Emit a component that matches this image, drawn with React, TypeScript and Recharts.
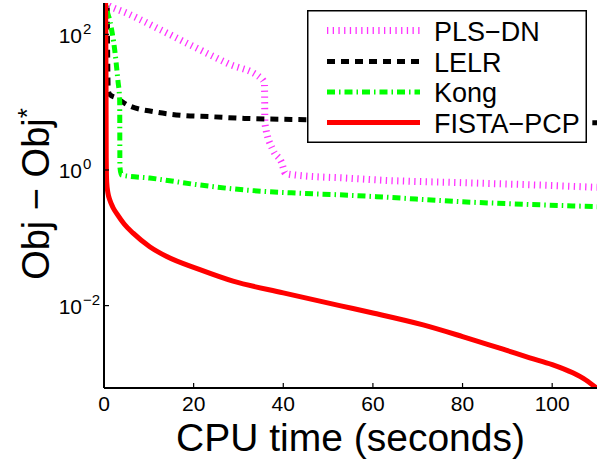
/**
 * Convergence plot: objective gap (log scale) against CPU time for four
 * RPCA solvers. Drawn in the MATLAB look: boxed axes, inward ticks,
 * exponent tick labels and a framed legend in the upper right.
 */

import { LineChart, Line, XAxis, YAxis } from 'recharts';

const FONT = '"Liberation Sans", Arial, Helvetica, sans-serif';

/** Tick values */
const X_TICKS = [0, 20, 40, 60, 80, 100];
const Y_TICKS = [1e-2, 1, 1e2];
const Y_EXPONENTS = ['−2', '0', '2'];

/** PLS-DN */
const plsTime = [0, 0.9, 5.4, 12.8, 20.2, 27.7, 35.1, 35.8, 35.9, 37.7, 39.6, 40.5, 42.9, 54.8, 61.5, 80, 100, 110];
const plsGap = [290, 268, 201, 115, 65, 37, 22.3, 19, 4.9, 1.97, 1.3, 0.89, 0.84, 0.755, 0.71, 0.65, 0.59, 0.555];

/** LELR */
const lelrTime = [0.7, 0.95, 1.3, 2.8, 5.4, 11.3, 17.3, 24, 31.4, 41.8, 60, 80, 100, 110];
const lelrGap = [400, 15, 13, 11.5, 9.0, 7.2, 6.4, 6.1, 5.76, 5.57, 5.4, 5.3, 5.1, 4.97];

/** Kong */
const kongTime = [0.4, 0.6, 1.3, 2.4, 3.1, 3.5, 3.55, 3.9, 10.2, 21.4, 31.4, 41.8, 52.6, 60.8, 80, 95, 110];
const kongGap = [400, 250, 160, 58, 21, 10.7, 1.1, 0.84, 0.76, 0.6, 0.507, 0.46, 0.43, 0.404, 0.34, 0.31, 0.288];

/** FISTA-PCP */
const fistaTime = [0.35, 0.45, 0.5, 0.6, 0.9, 1.3, 2, 3, 4.5, 6.5, 10.2, 14, 21.4, 28.8, 40, 52.6, 60, 71.2, 80, 89.7, 95, 100, 104.6, 107.5, 110];
const fistaGap = [400, 20, 1.5, 0.66, 0.45, 0.36, 0.28, 0.22, 0.16, 0.117, 0.074, 0.053, 0.034, 0.023, 0.0154, 0.01, 0.0078, 0.0052, 0.0035, 0.0022, 0.0017, 0.00135, 0.00102, 0.0008, 0.0006];

const zip = (t: number[], v: number[]) => t.map((x, i) => ({ t: x, v: v[i] }));

interface SeriesDef {
  name: string;
  data: { t: number; v: number }[];
  color: string;
  width: number;
  dash?: string;
}

// Drawing order matches the legend; FISTA-PCP ends up on top
const SERIES: SeriesDef[] = [
  { name: 'PLS−DN', data: zip(plsTime, plsGap), color: '#ff33ff', width: 7, dash: '1.3 4.4' },
  { name: 'LELR', data: zip(lelrTime, lelrGap), color: '#000000', width: 5, dash: '8 6' },
  { name: 'Kong', data: zip(kongTime, kongGap), color: '#00ff00', width: 5, dash: '8 4 1.5 4' },
  { name: 'FISTA−PCP', data: zip(fistaTime, fistaGap), color: '#ff0000', width: 5 },
];

const TICK_LEN = 5;
const TICK_STROKE = { stroke: '#000', strokeWidth: 1.2 };
const AXIS_LINE = { stroke: '#000', strokeWidth: 2 };

function BottomTick({ x, y, payload }: any) {
  return (
    <g>
      <line x1={x} y1={y} x2={x} y2={y - TICK_LEN} {...TICK_STROKE} />
      <text x={x} y={y + 23} textAnchor="middle" fontSize={21} fontFamily={FONT} fill="#000">
        {payload.value}
      </text>
    </g>
  );
}

function TopTick({ x, y }: any) {
  return <line x1={x} y1={y} x2={x} y2={y + TICK_LEN} {...TICK_STROKE} />;
}

function LeftTick({ x, y, payload, index }: any) {
  const exp = Y_EXPONENTS[index] ?? String(Math.round(Math.log10(payload.value)));
  return (
    <g>
      <line x1={x} y1={y} x2={x + TICK_LEN} y2={y} {...TICK_STROKE} />
      <text x={x - 22} y={y + 8.5} textAnchor="end" fontSize={21} fontFamily={FONT} fill="#000">
        10
      </text>
      <text x={x - 21} y={y - 0.5} textAnchor="start" fontSize={15} fontFamily={FONT} fill="#000">
        {exp}
      </text>
    </g>
  );
}

function RightTick({ x, y }: any) {
  return <line x1={x} y1={y} x2={x - TICK_LEN} y2={y} {...TICK_STROKE} />;
}

function LegendBox() {
  const rowY = [20.5, 51.5, 82, 112.5];
  return (
    <svg width={280} height={133} style={{ position: 'absolute', left: 307, top: 10 }}>
      <rect x={0.75} y={0.75} width={278.5} height={131.5} fill="#fff" stroke="#000" strokeWidth={1.5} />
      {SERIES.map((s, i) => (
        <g key={s.name}>
          <line
            x1={20}
            x2={113}
            y1={rowY[i]}
            y2={rowY[i]}
            stroke={s.color}
            strokeWidth={s.width}
            strokeDasharray={s.dash}
          />
          <text x={127} y={rowY[i] + 10} fontSize={27} fontFamily={FONT} fill="#000">
            {s.name}
          </text>
        </g>
      ))}
    </svg>
  );
}

export default function App() {
  return (
    <div style={{ position: 'absolute', left: 0, top: 0, width: 605, height: 459, background: '#fff' }}>
      <LineChart width={605} height={459} margin={{ top: 3, right: 8, bottom: 31, left: 44 }}>
        <XAxis
          dataKey="t"
          type="number"
          domain={[0, 110]}
          ticks={X_TICKS}
          allowDataOverflow
          height={40}
          tickSize={0}
          tickMargin={0}
          tickLine={false}
          axisLine={AXIS_LINE}
          tick={<BottomTick />}
        />
        <XAxis
          xAxisId="top"
          orientation="top"
          dataKey="t"
          type="number"
          domain={[0, 110]}
          ticks={X_TICKS}
          allowDataOverflow
          height={0}
          tickSize={0}
          tickMargin={0}
          tickLine={false}
          axisLine={AXIS_LINE}
          tick={<TopTick />}
        />
        <YAxis
          dataKey="v"
          type="number"
          scale="log"
          domain={[6.1e-4, 290]}
          ticks={Y_TICKS}
          allowDataOverflow
          width={60}
          tickSize={0}
          tickMargin={0}
          tickLine={false}
          axisLine={AXIS_LINE}
          tick={<LeftTick />}
        />
        <YAxis
          yAxisId="right"
          orientation="right"
          dataKey="v"
          type="number"
          scale="log"
          domain={[6.1e-4, 290]}
          ticks={Y_TICKS}
          allowDataOverflow
          width={0}
          tickSize={0}
          tickMargin={0}
          tickLine={false}
          axisLine={AXIS_LINE}
          tick={<RightTick />}
        />
        {SERIES.map((s) => (
          <Line
            key={s.name}
            data={s.data}
            dataKey="v"
            name={s.name}
            type="monotoneX"
            stroke={s.color}
            strokeWidth={s.width}
            strokeDasharray={s.dash}
            strokeLinecap="butt"
            strokeLinejoin="round"
            dot={false}
            activeDot={false}
            isAnimationActive={false}
          />
        ))}
      </LineChart>

      {/* axis titles */}
      <svg width={605} height={459} style={{ position: 'absolute', left: 0, top: 0, pointerEvents: 'none' }}>
        <text x={350.5} y={451} textAnchor="middle" fontSize={39} fontFamily={FONT} fill="#000">
          CPU time (seconds)
        </text>
        <text transform="translate(49, 194) rotate(-90)" textAnchor="middle" fontSize={38} fontFamily={FONT} fill="#000">
          Obj − Obj
          <tspan dy={-13} fontSize={26}>*</tspan>
        </text>
      </svg>

      <LegendBox />
    </div>
  );
}
